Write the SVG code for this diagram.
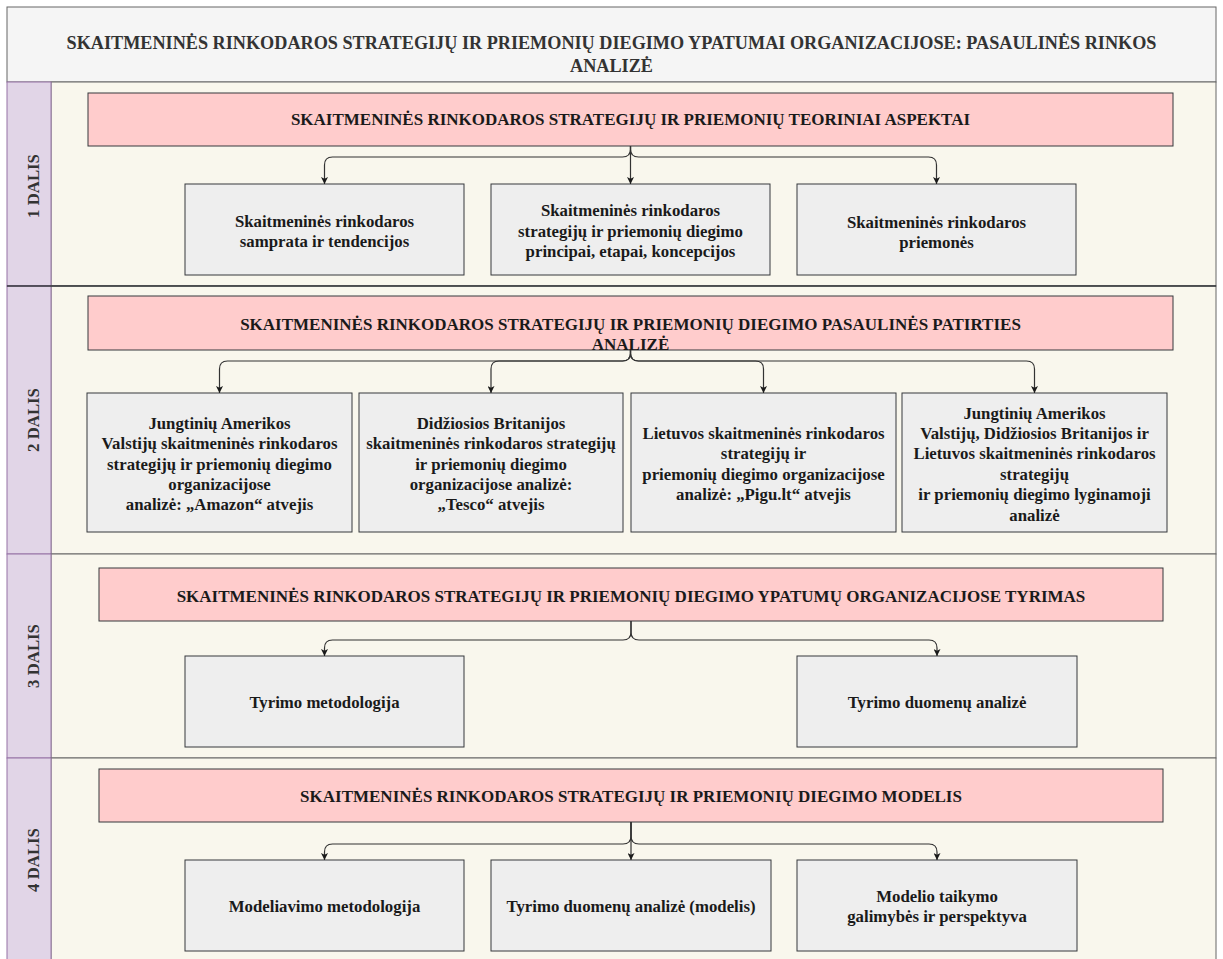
<svg xmlns="http://www.w3.org/2000/svg" width="1223" height="959" viewBox="0 0 1223 959">
<style>
text{font-family:"Liberation Serif","Times New Roman",serif;font-weight:bold;text-anchor:middle;fill:#1a1a1a}
.title{font-size:18.2px;fill:#333}
.hdr{font-size:17px}
.box{font-size:16.8px}
.lbl{font-size:16.8px;fill:#333}
.lane{fill:#f9f7ed;stroke:#666;stroke-width:1}
.col{fill:#e1d5e7;stroke:#9673a6;stroke-width:1}
.pink{fill:#ffcccc;stroke:#36393d;stroke-width:1}
.gray{fill:#eeeeee;stroke:#36393d;stroke-width:1}
.con{fill:none;stroke:#333;stroke-width:1.2;marker-end:url(#arr)}
</style>
<defs>
<marker id="arr" viewBox="0 0 10 10" refX="10" refY="5" markerWidth="7" markerHeight="7" markerUnits="userSpaceOnUse" orient="auto">
<path d="M0,0 L10,5 L0,10 L2.5,5 z" fill="#1a1a1a"/>
</marker>
</defs>
<rect x="0" y="0" width="1223" height="959" fill="#ffffff"/>

<g id="title">
<rect x="7" y="7" width="1209" height="75" fill="#f5f5f5" stroke="#666"/>
<text class="title" x="611.5" y="48.8">SKAITMENINĖS RINKODAROS STRATEGIJŲ IR PRIEMONIŲ DIEGIMO YPATUMAI ORGANIZACIJOSE: PASAULINĖS RINKOS</text>
<text class="title" x="611.5" y="71.5">ANALIZĖ</text>
</g>

<g id="lane1">
<rect class="lane" x="51" y="82" width="1165" height="204"/>
<rect class="col" x="7" y="82" width="44" height="204"/>
<text class="lbl" transform="translate(39,186) rotate(-90)">1 DALIS</text>
</g>
<g id="lane2">
<rect class="lane" x="51" y="286" width="1165" height="268"/>
<rect class="col" x="7" y="286" width="44" height="268"/>
<text class="lbl" transform="translate(39,420) rotate(-90)">2 DALIS</text>
</g>
<g id="lane3">
<rect class="lane" x="51" y="554" width="1165" height="204"/>
<rect class="col" x="7" y="554" width="44" height="204"/>
<text class="lbl" transform="translate(39,656) rotate(-90)">3 DALIS</text>
</g>
<g id="lane4">
<rect class="lane" x="51" y="758" width="1165" height="204"/>
<rect class="col" x="7" y="758" width="44" height="204"/>
<text class="lbl" transform="translate(39,860) rotate(-90)">4 DALIS</text>
</g>
<line x1="7" y1="286" x2="1216" y2="286" stroke="#36393d" stroke-width="1.6"/>

<g id="h1">
<rect class="pink" x="88" y="93" width="1085" height="53"/>
<text class="hdr" x="630.5" y="125">SKAITMENINĖS RINKODAROS STRATEGIJŲ IR PRIEMONIŲ TEORINIAI ASPEKTAI</text>
</g>
<g id="b1a">
<rect class="gray" x="185" y="184" width="279" height="91"/>
<text class="box" x="324.5" y="226.5">Skaitmeninės rinkodaros</text>
<text class="box" x="324.5" y="246.9">samprata ir tendencijos</text>
</g>
<g id="b1b">
<rect class="gray" x="491" y="184" width="279" height="91"/>
<text class="box" x="630.5" y="216.3">Skaitmeninės rinkodaros</text>
<text class="box" x="630.5" y="236.7">strategijų ir priemonių diegimo</text>
<text class="box" x="630.5" y="257.1">principai, etapai, koncepcijos</text>
</g>
<g id="b1c">
<rect class="gray" x="797" y="184" width="279" height="91"/>
<text class="box" x="936.5" y="227.5">Skaitmeninės rinkodaros</text>
<text class="box" x="936.5" y="247.9">priemonės</text>
</g>

<g id="h2">
<rect class="pink" x="88" y="296" width="1085" height="54"/>
<text class="hdr" x="630.5" y="330">SKAITMENINĖS RINKODAROS STRATEGIJŲ IR PRIEMONIŲ DIEGIMO PASAULINĖS PATIRTIES</text>
<text class="hdr" x="630.5" y="349.5">ANALIZĖ</text>
</g>
<g id="b2a">
<rect class="gray" x="87" y="393" width="265" height="139"/>
<text class="box" x="219.5" y="428.7">Jungtinių Amerikos</text>
<text class="box" x="219.5" y="449.1">Valstijų skaitmeninės rinkodaros</text>
<text class="box" x="219.5" y="469.5">strategijų ir priemonių diegimo</text>
<text class="box" x="219.5" y="489.9">organizacijose</text>
<text class="box" x="219.5" y="510.3">analizė: „Amazon“ atvejis</text>
</g>
<g id="b2b">
<rect class="gray" x="359" y="393" width="264" height="139"/>
<text class="box" x="491" y="428.7">Didžiosios Britanijos</text>
<text class="box" x="491" y="449.1">skaitmeninės rinkodaros strategijų</text>
<text class="box" x="491" y="469.5">ir priemonių diegimo</text>
<text class="box" x="491" y="489.9">organizacijose analizė:</text>
<text class="box" x="491" y="510.3">„Tesco“ atvejis</text>
</g>
<g id="b2c">
<rect class="gray" x="631" y="393" width="265" height="139"/>
<text class="box" x="763.5" y="438.9">Lietuvos skaitmeninės rinkodaros</text>
<text class="box" x="763.5" y="459.3">strategijų ir</text>
<text class="box" x="763.5" y="479.7">priemonių diegimo organizacijose</text>
<text class="box" x="763.5" y="500.1">analizė: „Pigu.lt“ atvejis</text>
</g>
<g id="b2d">
<rect class="gray" x="902" y="393" width="265" height="139"/>
<text class="box" x="1034.5" y="418.5">Jungtinių Amerikos</text>
<text class="box" x="1034.5" y="438.9">Valstijų, Didžiosios Britanijos ir</text>
<text class="box" x="1034.5" y="459.3">Lietuvos skaitmeninės rinkodaros</text>
<text class="box" x="1034.5" y="479.7">strategijų</text>
<text class="box" x="1034.5" y="500.1">ir priemonių diegimo lyginamoji</text>
<text class="box" x="1034.5" y="520.5">analizė</text>
</g>

<g id="h3">
<rect class="pink" x="99" y="568" width="1064" height="53"/>
<text class="hdr" x="631" y="601.5">SKAITMENINĖS RINKODAROS STRATEGIJŲ IR PRIEMONIŲ DIEGIMO YPATUMŲ ORGANIZACIJOSE TYRIMAS</text>
</g>
<g id="b3a">
<rect class="gray" x="185" y="656" width="279" height="91"/>
<text class="box" x="324.5" y="708">Tyrimo metodologija</text>
</g>
<g id="b3b">
<rect class="gray" x="797" y="656" width="280" height="91"/>
<text class="box" x="937" y="708">Tyrimo duomenų analizė</text>
</g>

<g id="h4">
<rect class="pink" x="99" y="769" width="1064" height="53"/>
<text class="hdr" x="631" y="801.5">SKAITMENINĖS RINKODAROS STRATEGIJŲ IR PRIEMONIŲ DIEGIMO MODELIS</text>
</g>
<g id="b4a">
<rect class="gray" x="185" y="860" width="279" height="91"/>
<text class="box" x="324.5" y="912">Modeliavimo metodologija</text>
</g>
<g id="b4b">
<rect class="gray" x="491" y="860" width="280" height="91"/>
<text class="box" x="631" y="912">Tyrimo duomenų analizė (modelis)</text>
</g>
<g id="b4c">
<rect class="gray" x="797" y="860" width="280" height="91"/>
<text class="box" x="937" y="901.8">Modelio taikymo</text>
<text class="box" x="937" y="922.2">galimybės ir perspektyva</text>
</g>

<g id="connectors">
<path class="con" d="M630.5,146 V149 Q630.5,157 622.5,157 H332.5 Q324.5,157 324.5,165 V184"/>
<path class="con" d="M630.5,146 V184"/>
<path class="con" d="M630.5,146 V149 Q630.5,157 638.5,157 H928.5 Q936.5,157 936.5,165 V184"/>

<path class="con" d="M630.5,350 V353 Q630.5,361 622.5,361 H227.5 Q219.5,361 219.5,369 V393"/>
<path class="con" d="M630.5,350 V353 Q630.5,361 622.5,361 H499 Q491,361 491,369 V393"/>
<path class="con" d="M630.5,350 V353 Q630.5,361 638.5,361 H755.5 Q763.5,361 763.5,369 V393"/>
<path class="con" d="M630.5,350 V353 Q630.5,361 638.5,361 H1026.5 Q1034.5,361 1034.5,369 V393"/>

<path class="con" d="M631,621 V632 Q631,640 623,640 H332.5 Q324.5,640 324.5,648 V656"/>
<path class="con" d="M631,621 V632 Q631,640 639,640 H929 Q937,640 937,648 V656"/>

<path class="con" d="M631,822 V836 Q631,844 623,844 H332.5 Q324.5,844 324.5,852 V860"/>
<path class="con" d="M631,822 V860"/>
<path class="con" d="M631,822 V836 Q631,844 639,844 H929 Q937,844 937,852 V860"/>
</g>
</svg>
